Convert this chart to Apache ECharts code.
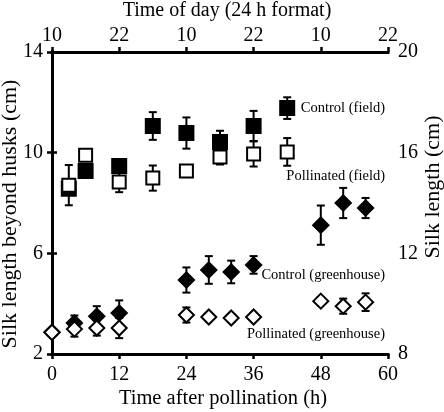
<!DOCTYPE html>
<html>
<head>
<meta charset="utf-8">
<script src="https://cdn.jsdelivr.net/npm/echarts@6/dist/echarts.min.js"></script>
<style>
html,body{margin:0;padding:0;background:#fff;}
#chart{width:444px;height:412px;}
</style>
</head>
<body>
<div id="chart"></div>
<script>
// ---- data (hours after pollination, silk length beyond husks in cm) ----
const hoursField = [3, 6, 12, 18, 24, 30, 36, 42];
const controlField = [8.57, 9.27, 9.47, 11.06, 10.78, 10.42, 11.06, 11.77];
const controlFieldErr = [0.2, 0.15, 0.25, 0.55, 0.62, 0.45, 0.6, 0.43];
const pollinatedField = [8.71, 9.9, 8.83, 8.99, 9.27, 9.83, 9.95, 10.03];
const pollinatedFieldErr = [0.8, 0.15, 0.4, 0.5, 0.15, 0.3, 0.5, 0.55];

const hoursGreenhouse = [0, 4, 8, 12, 24, 28, 32, 36, 48, 52, 56];
const controlGreenhouse = [2.86, 3.23, 3.5, 3.63, 4.94, 5.34, 5.26, 5.54, 7.12, 8.0, 7.8];
const controlGreenhouseErr = [0.1, 0.3, 0.4, 0.5, 0.5, 0.55, 0.45, 0.35, 0.78, 0.6, 0.4];
const pollinatedGreenhouse = [2.86, 2.99, 3.03, 3.03, 3.55, 3.47, 3.43, 3.47, 4.1, 3.9, 4.06];
const pollinatedGreenhouseErr = [0.1, 0.3, 0.3, 0.4, 0.3, 0.1, 0.15, 0.1, 0.15, 0.3, 0.35];

const topTickLabels = ['10', '22', '10', '22', '10', '22'];
const seriesNames = ['Control (field)', 'Pollinated (field)', 'Control (greenhouse)', 'Pollinated (greenhouse)'];
const axisTitles = {
  bottom: 'Time after pollination (h)',
  top: 'Time of day (24 h format)',
  left: 'Silk length beyond husks (cm)',
  right: 'Silk length (cm)'
};

// ---- chart ----
const FONT = '"Liberation Serif", "Times New Roman", serif';
const chart = echarts.init(document.getElementById('chart'), null, {renderer: 'canvas'});

function pts(xs, ys) { return xs.map((x, i) => [x, ys[i]]); }
function errPts(xs, ys, es) { return xs.map((x, i) => [x, ys[i], es[i]]); }

function errRender(params, api) {
  const x = api.value(0), m = api.value(1), e = api.value(2);
  const top = api.coord([x, m + e]);
  const bot = api.coord([x, m - e]);
  const hw = 4;
  const style = {stroke: '#000', lineWidth: 2, fill: null, opacity: 1};
  return {
    type: 'group',
    children: [
      {type: 'line', shape: {x1: top[0], y1: top[1], x2: bot[0], y2: bot[1]}, style: style},
      {type: 'line', shape: {x1: top[0] - hw, y1: top[1], x2: top[0] + hw, y2: top[1]}, style: style},
      {type: 'line', shape: {x1: bot[0] - hw, y1: bot[1], x2: bot[0] + hw, y2: bot[1]}, style: style}
    ]
  };
}

const axisLineStyle = {color: '#000', width: 3, cap: 'square'};
const tickStyle = {show: true, inside: false, length: 5, lineStyle: {color: '#000', width: 2.5}};
const labelStyle = {fontFamily: FONT, fontSize: 20, color: '#000'};

function titleText(text, x, y, size, rot) {
  return {type: 'text', x: x, y: y, rotation: rot || 0, z: 10,
    style: {text: text, align: 'center', verticalAlign: 'middle', font: size + 'px ' + FONT, fill: '#000'}};
}
function labelText(text, y) {
  return {type: 'text', x: 385, y: y, z: 10,
    style: {text: text, align: 'right', verticalAlign: 'middle', font: '14.5px ' + FONT, fill: '#000'}};
}

const option = {
  animation: false,
  backgroundColor: '#fff',
  grid: {left: 52, right: 56, top: 52, bottom: 58, containLabel: false, outerBoundsMode: 'none'},
  xAxis: [
    {
      type: 'value', position: 'bottom', min: 0, max: 60, interval: 12,
      axisLine: {lineStyle: axisLineStyle}, axisTick: tickStyle,
      axisLabel: Object.assign({margin: 11}, labelStyle),
      splitLine: {show: false}
    },
    {
      type: 'value', position: 'top', min: 0, max: 60, interval: 12,
      axisLine: {lineStyle: axisLineStyle}, axisTick: tickStyle,
      axisLabel: Object.assign({margin: 6, formatter: v => topTickLabels[Math.round(v / 12)]}, labelStyle),
      splitLine: {show: false}
    }
  ],
  yAxis: [
    {
      type: 'value', position: 'left', min: 2, max: 14, interval: 4,
      axisLine: {lineStyle: axisLineStyle}, axisTick: tickStyle,
      axisLabel: Object.assign({margin: 9}, labelStyle),
      splitLine: {show: false}
    },
    {
      type: 'value', position: 'right', min: 8, max: 20, interval: 4,
      axisLine: {lineStyle: axisLineStyle}, axisTick: tickStyle,
      axisLabel: Object.assign({margin: 10}, labelStyle),
      splitLine: {show: false}
    }
  ],
  series: [
    {type: 'custom', name: seriesNames[0] + ' err', renderItem: errRender, data: errPts(hoursField, controlField, controlFieldErr), encode: {x: 0, y: 1}, z: 1, clip: false},
    {type: 'custom', name: seriesNames[1] + ' err', renderItem: errRender, data: errPts(hoursField, pollinatedField, pollinatedFieldErr), encode: {x: 0, y: 1}, z: 1, clip: false},
    {type: 'custom', name: seriesNames[2] + ' err', renderItem: errRender, data: errPts(hoursGreenhouse, controlGreenhouse, controlGreenhouseErr), encode: {x: 0, y: 1}, z: 1, clip: false},
    {type: 'custom', name: seriesNames[3] + ' err', renderItem: errRender, data: errPts(hoursGreenhouse, pollinatedGreenhouse, pollinatedGreenhouseErr), encode: {x: 0, y: 1}, z: 1, clip: false},
    {type: 'scatter', name: seriesNames[0], data: pts(hoursField, controlField), symbol: 'rect', symbolSize: 14,
      itemStyle: {color: '#000', borderColor: '#000', borderWidth: 2, opacity: 1}, z: 3},
    {type: 'scatter', name: seriesNames[2], data: pts(hoursGreenhouse, controlGreenhouse), symbol: 'diamond', symbolSize: 16,
      itemStyle: {color: '#000', borderColor: '#000', borderWidth: 1.5, opacity: 1}, z: 3},
    {type: 'scatter', name: seriesNames[1], data: pts(hoursField, pollinatedField), symbol: 'rect', symbolSize: 13,
      itemStyle: {color: '#fff', borderColor: '#000', borderWidth: 2, opacity: 1}, z: 4},
    {type: 'scatter', name: seriesNames[3], data: pts(hoursGreenhouse, pollinatedGreenhouse), symbol: 'diamond', symbolSize: 15,
      itemStyle: {color: '#fff', borderColor: '#000', borderWidth: 2, opacity: 1}, z: 4}
  ],
  graphic: [
    titleText(axisTitles.top, 227, 11, 20, 0),
    titleText(axisTitles.bottom, 223, 399, 20.5, 0),
    titleText(axisTitles.left, 10, 214, 22, Math.PI / 2),
    titleText(axisTitles.right, 433, 187, 22, Math.PI / 2),
    labelText(seriesNames[0], 108),
    labelText(seriesNames[1], 176),
    labelText(seriesNames[2], 275),
    labelText(seriesNames[3], 334)
  ]
};
chart.setOption(option);
</script>
</body>
</html>
